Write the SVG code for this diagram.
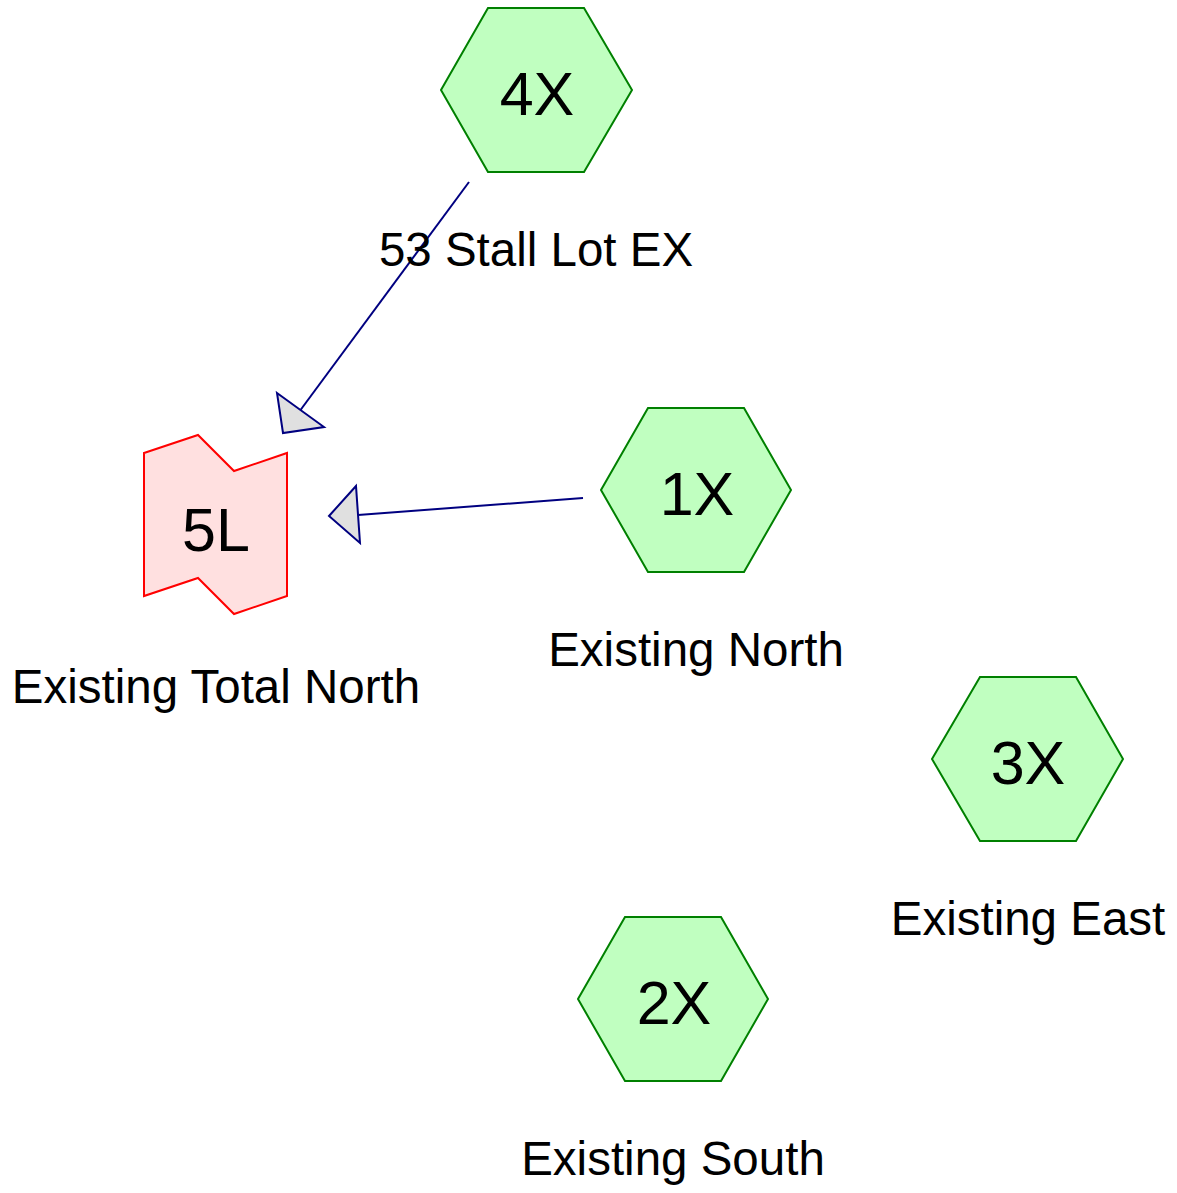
<svg xmlns="http://www.w3.org/2000/svg" width="1177" height="1193" viewBox="0 0 1177 1193">
<style>
.hex{fill:#c0ffc0;stroke:#008000;stroke-width:2}
.lot{fill:#ffe0e0;stroke:#ff0000;stroke-width:2}
.edge{fill:none;stroke:#000080;stroke-width:2}
.head{fill:#e0e0e0;stroke:#000080;stroke-width:2;stroke-linejoin:miter}
.big{font-family:"Liberation Sans",Arial,sans-serif;font-size:61px;fill:#000;text-anchor:middle}
.lbl{font-family:"Liberation Sans",Arial,sans-serif;font-size:47.5px;fill:#000;text-anchor:middle}
</style>
<rect width="1177" height="1193" fill="#fff"/>
<g id="connectors">
<path class="edge" d="M469,182 L300.5,410"/>
<polygon class="head" points="277,393 324,427 283,433"/>
<path class="edge" d="M583,498 L358,515"/>
<polygon class="head" points="356,486 360,543 329,516"/>
</g>
<g id="node-4X">
<polygon class="hex" points="441,90 488,8 584,8 632,90 584,172 488,172"/>
<text class="big" x="537" y="115">4X</text>
<text class="lbl" x="536" y="266">53 Stall Lot EX</text>
</g>
<g id="node-1X">
<polygon class="hex" points="601,490 648,408 744,408 791,490 744,572 648,572"/>
<text class="big" x="697" y="515">1X</text>
<text class="lbl" x="696" y="666">Existing North</text>
</g>
<g id="node-3X">
<polygon class="hex" points="932,759 980,677 1076,677 1123,759 1076,841 980,841"/>
<text class="big" x="1028" y="784">3X</text>
<text class="lbl" x="1028" y="935">Existing East</text>
</g>
<g id="node-2X">
<polygon class="hex" points="578,999 625,917 721,917 768,999 721,1081 625,1081"/>
<text class="big" x="674" y="1024">2X</text>
<text class="lbl" x="673" y="1175">Existing South</text>
</g>
<g id="node-5L">
<polygon class="lot" points="144,453 198,435 234,471 287,453 287,596 234,614 198,578 144,596"/>
<text class="big" x="216" y="551">5L</text>
<text class="lbl" x="216" y="703">Existing Total North</text>
</g>
</svg>
